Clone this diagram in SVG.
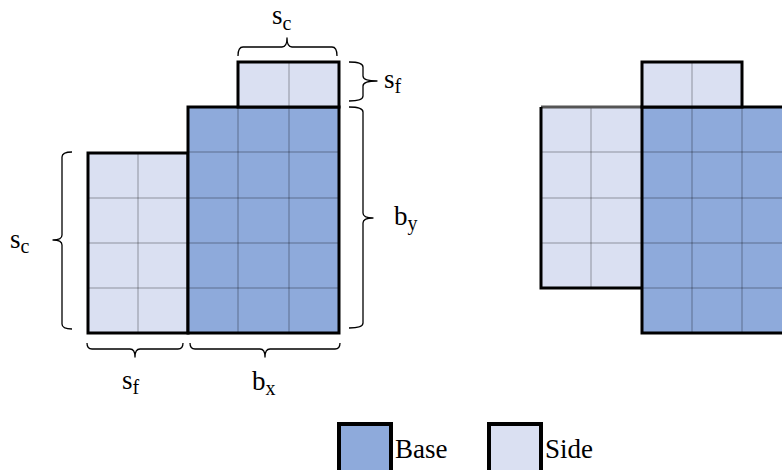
<svg xmlns="http://www.w3.org/2000/svg" width="782" height="470" viewBox="0 0 782 470">
<style>
.base{fill:#8eaadb}
.side{fill:#dae0f2}
.grid{stroke:#000;stroke-opacity:0.35;stroke-width:1;fill:none}
.out{fill:none;stroke:#000;stroke-width:3}
.brace{fill:none;stroke:#000;stroke-width:1.3;stroke-linejoin:round}
.lbl{font-family:"Liberation Serif",serif;font-size:27px;fill:#000}
.sub{font-size:20px}
.leg{font-family:"Liberation Serif",serif;font-size:27px;fill:#000}
</style>
<rect width="782" height="470" fill="#fff"/>

<g id="left-figure">
  <g id="left-side">
    <rect class="side" x="88" y="153" width="100" height="180"/>
    <path class="grid" d="M138,153V333M88,198H188M88,243H188M88,288H188"/>
    <rect class="out" x="88" y="153" width="100" height="180"/>
  </g>
  <g id="left-base">
    <rect class="base" x="188" y="107" width="151" height="226"/>
    <path class="grid" d="M238,107V333M289,107V333M188,152H339M188,198H339M188,243H339M188,288H339"/>
    <rect class="out" x="188" y="107" width="151" height="226"/>
  </g>
  <g id="left-cap">
    <rect class="side" x="238" y="62" width="101" height="45"/>
    <path class="grid" d="M289,62V107"/>
    <rect class="out" x="238" y="62" width="101" height="45"/>
  </g>
</g>

<g id="right-figure">
  <g id="right-side">
    <rect class="side" x="541" y="107" width="101" height="181"/>
    <path class="grid" d="M591,107V288M541,152H642M541,198H642M541,243H642"/>
    <path d="M541,107H642" fill="none" stroke="#555" stroke-width="3"/>
    <path class="out" d="M642,288H541V107"/>
  </g>
  <g id="right-base">
    <rect class="base" x="642" y="107" width="150" height="226"/>
    <path class="grid" d="M692,107V333M742,107V333M642,152H792M642,198H792M642,243H792M642,288H792"/>
    <path class="out" d="M792,107H642V333H792"/>
  </g>
  <g id="right-cap">
    <rect class="side" x="642" y="62" width="100" height="45"/>
    <path class="grid" d="M692,62V107"/>
    <rect class="out" x="642" y="62" width="100" height="45"/>
  </g>
</g>

<g id="connectors">
  <path id="brace-top" class="brace" d="M238,56Q238,47 243,47L282,47Q287,47 287,38Q287,47 292,47L332,47Q337,47 337,56"/>
  <path id="brace-cap-right" class="brace" d="M349,62Q363,62 363,67L363,76Q363,81 377,81Q363,81 363,86L363,96Q363,101 349,101"/>
  <path id="brace-base-right" class="brace" d="M349,107Q363,107 363,112L363,213Q363,218 373,218Q363,218 363,223L363,323Q363,328 349,328"/>
  <path id="brace-left" class="brace" d="M72,152Q62,152 62,157L62,235Q62,240 53,240Q62,240 62,245L62,324Q62,329 72,329"/>
  <path id="brace-bottom-sf" class="brace" d="M87,343Q87,349 92,349L130,349Q135,349 135,357Q135,349 140,349L178,349Q183,349 183,343"/>
  <path id="brace-bottom-bx" class="brace" d="M190,343Q190,349 195,349L260,349Q265,349 265,357Q265,349 270,349L335,349Q340,349 340,343"/>
</g>

<g id="labels">
  <text class="lbl" x="272" y="24">s<tspan class="sub" dy="6">c</tspan></text>
  <text class="lbl" x="384" y="88">s<tspan class="sub" dy="5">f</tspan></text>
  <text class="lbl" x="394" y="225">b<tspan class="sub" dy="5">y</tspan></text>
  <text class="lbl" x="10" y="248">s<tspan class="sub" dy="5">c</tspan></text>
  <text class="lbl" x="122" y="389">s<tspan class="sub" dy="5">f</tspan></text>
  <text class="lbl" x="252" y="390">b<tspan class="sub" dy="5">x</tspan></text>
</g>

<g id="legend-base">
  <rect class="base" x="339" y="424" width="52" height="48" stroke="#000" stroke-width="4"/>
  <text class="leg" x="395" y="458">Base</text>
</g>
<g id="legend-side">
  <rect class="side" x="489" y="424" width="52" height="48" stroke="#000" stroke-width="4"/>
  <text class="leg" x="545" y="458">Side</text>
</g>
</svg>
